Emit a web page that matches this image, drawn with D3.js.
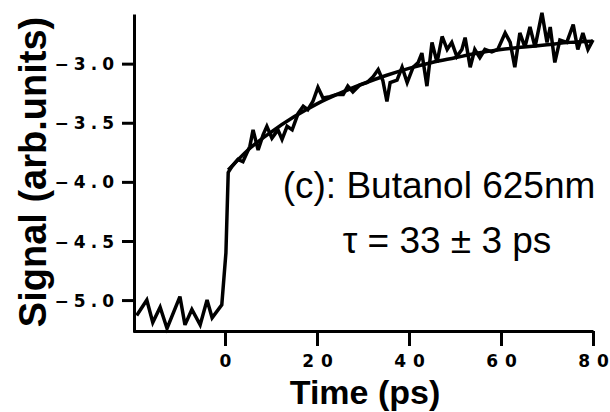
<!DOCTYPE html>
<html><head><meta charset="utf-8">
<script src="https://cdn.jsdelivr.net/npm/d3@7"></script>
<style>
html,body{margin:0;padding:0;background:#fff;}
svg{display:block;}
</style></head>
<body>
<svg id="chart" width="610" height="412"></svg>
<script>
// ---- data ----
const timePs = [-19.2,-17.0,-15.7,-14.1,-12.6,-9.8,-8.7,-7.2,-5.4,-3.9,-2.8,-0.7,0.2,0.7,1.5,2.8,3.9,5.4,6.1,7.2,8.3,9.1,10.2,11.5,12.4,13.5,14.6,15.9,17.0,18.0,19.1,20.2,21.3,22.8,24.3,25.7,26.7,27.8,29.3,30.9,32.2,33.3,34.3,35.2,35.9,37.4,38.5,39.6,40.9,42.0,42.8,43.9,45.0,46.1,47.2,48.3,49.3,50.4,51.5,52.2,53.3,54.3,55.4,56.5,58.0,59.3,60.9,62.0,63.0,64.1,65.2,66.3,67.4,68.9,70.0,70.7,71.7,72.8,74.3,75.7,76.7,77.8,78.9,80.0];
const signal = [-5.13,-5.00,-5.19,-5.06,-5.24,-4.97,-5.21,-5.08,-5.21,-5.00,-5.15,-5.04,-4.60,-3.92,-3.87,-3.81,-3.83,-3.70,-3.56,-3.73,-3.60,-3.53,-3.63,-3.56,-3.64,-3.53,-3.56,-3.42,-3.36,-3.39,-3.32,-3.20,-3.29,-3.28,-3.26,-3.26,-3.19,-3.24,-3.18,-3.16,-3.11,-3.05,-3.14,-3.32,-3.16,-3.14,-3.03,-3.16,-3.03,-2.99,-2.91,-3.19,-2.82,-2.99,-2.77,-2.88,-2.82,-2.94,-2.88,-2.78,-3.03,-2.88,-2.95,-2.88,-2.90,-2.88,-2.74,-2.82,-3.03,-2.74,-2.86,-2.69,-2.86,-2.57,-2.82,-2.69,-2.99,-2.80,-2.82,-2.67,-2.88,-2.74,-2.88,-2.80];
const fitTime = [0.7,5,10,15,20,25,30,35,40,45,50,55,60,65,70,75,80];
const fitSignal = [-3.90,-3.73,-3.58,-3.45,-3.34,-3.25,-3.17,-3.10,-3.04,-2.99,-2.95,-2.91,-2.88,-2.86,-2.84,-2.82,-2.81];
const xTicks = [0,20,40,60,80];
const yTicks = [-5.0,-4.5,-4.0,-3.5,-3.0];
const xDomain = [-20,80];
const yDomain = [-5.27,-2.58];
const xTitle = "Time (ps)";
const yTitle = "Signal (arb.units)";
const label1 = "(c): Butanol 625nm";
const label2 = "\u03C4 = 33 \u00B1 3 ps";

// ---- chart ----
const svg = d3.select("#chart");
const x = d3.scaleLinear().domain(xDomain).range([133,593]);
const y = d3.scaleLinear().domain(yDomain).range([332,14]);

const tickFont = "'DejaVu Sans', sans-serif";

const gx = svg.append("g").attr("transform","translate(0,331)")
  .call(d3.axisBottom(x).tickValues(xTicks).tickFormat(d3.format("d"))
    .tickSize(15).tickSizeOuter(0).tickPadding(9));
const gy = svg.append("g").attr("transform","translate(134,0)")
  .call(d3.axisLeft(y).tickValues(yTicks).tickFormat(d3.format(".1f"))
    .tickSize(12).tickSizeOuter(0).tickPadding(8));

[gx,gy].forEach(g=>{
  g.select(".domain").attr("stroke","#000").attr("stroke-width",3);
  g.selectAll(".tick line").attr("stroke","#000").attr("stroke-width",3);
  g.selectAll(".tick text").attr("fill","#000")
    .style("font-family",tickFont).style("font-weight","bold").style("font-size","17px");
});
// spaced-out digits via tspans (no trailing spacing)
function spaceOut(sel, gap){
  sel.each(function(){
    const t = d3.select(this); const s = t.text(); t.text(null);
    s.split("").forEach((ch,i)=>{
      t.append("tspan").attr("dx", i===0?0:gap).text(ch);
    });
  });
}
spaceOut(gx.selectAll(".tick text"), 7);
spaceOut(gy.selectAll(".tick text"), 5);
gy.selectAll(".tick text").attr("dy","0.36em");

const line = d3.line().x(d=>x(d[0])).y(d=>y(d[1]));
svg.append("path").datum(timePs.map((t,i)=>[t,signal[i]]))
  .attr("d",line).attr("fill","none").attr("stroke","#000")
  .attr("stroke-width",3.5).attr("stroke-linejoin","miter").attr("stroke-miterlimit",3);
svg.append("path").datum(fitTime.map((t,i)=>[t,fitSignal[i]]))
  .attr("d",line.curve(d3.curveMonotoneX)).attr("fill","none").attr("stroke","#000")
  .attr("stroke-width",3.5);

const titleFont = "'Liberation Sans', Arial, sans-serif";
svg.append("text").attr("x",365).attr("y",404).attr("text-anchor","middle")
  .style("font-family",titleFont).style("font-weight","bold").style("font-size","34px")
  .text(xTitle);
svg.append("text").attr("transform","translate(46,172) rotate(-90)").attr("text-anchor","middle")
  .style("font-family",titleFont).style("font-weight","bold").style("font-size","38px")
  .text(yTitle);

svg.append("text").attr("x",439).attr("y",198).attr("text-anchor","middle")
  .style("font-family",titleFont).style("font-size","37px").text(label1);
svg.append("text").attr("x",447).attr("y",253).attr("text-anchor","middle")
  .style("font-family",titleFont).style("font-size","37px").text(label2);
</script>
</body></html>
